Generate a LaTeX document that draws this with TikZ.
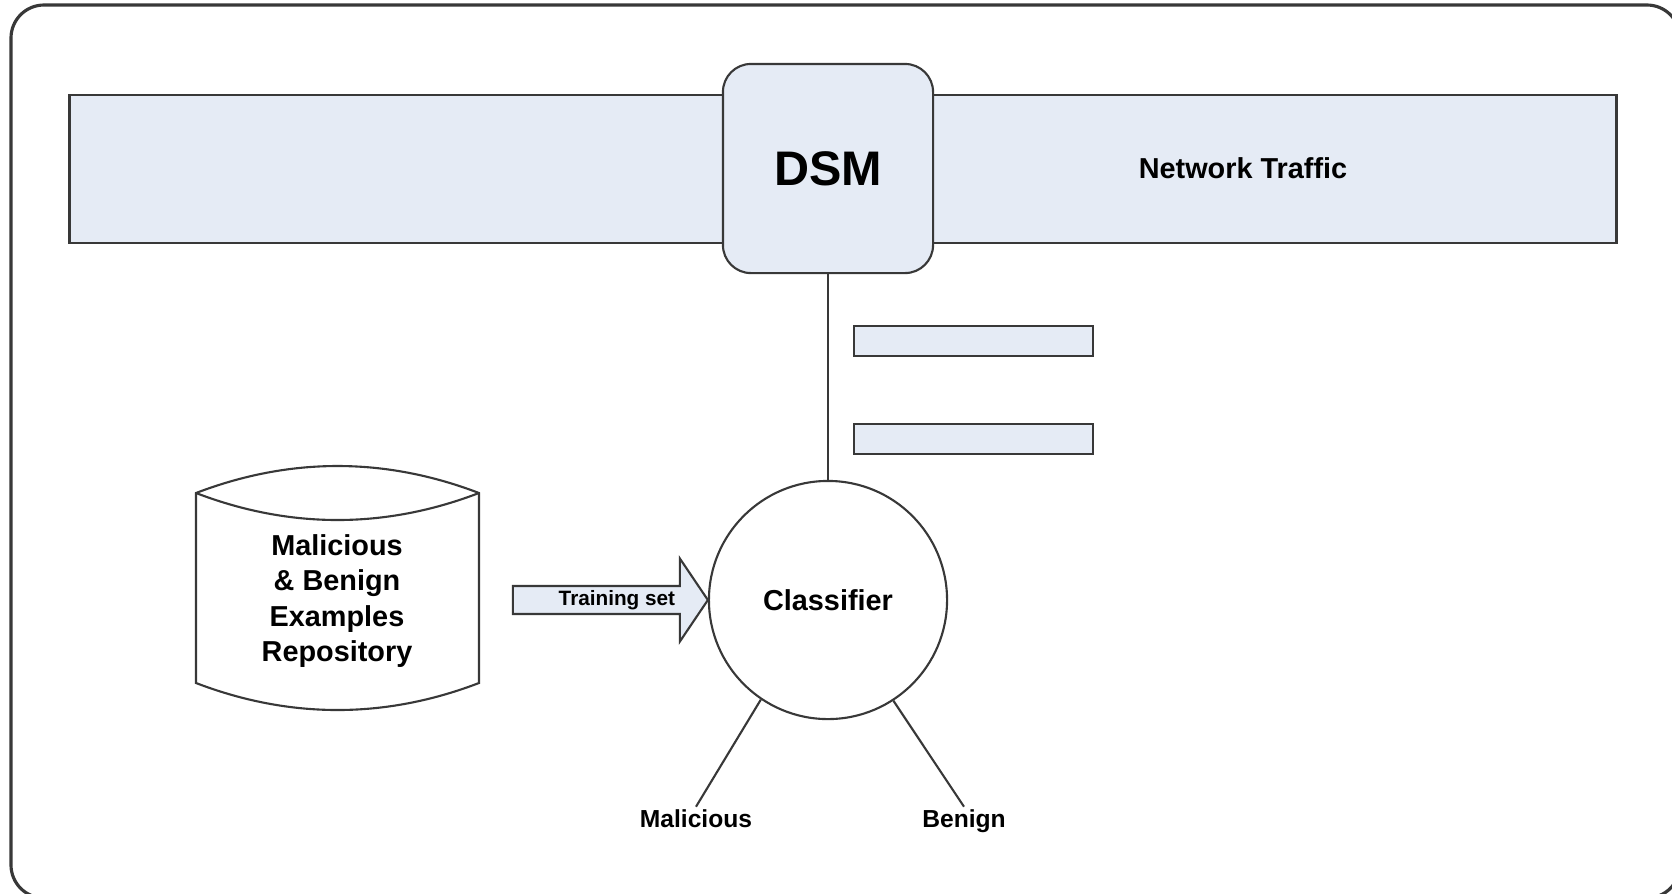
\documentclass[tikz,border=0pt]{standalone}
\usepackage{fontspec}
\setmainfont{Liberation Sans}
\usetikzlibrary{shapes,positioning}
\definecolor{paleBlue}{RGB}{229,235,245}
\colorlet{penColor}{black!78}
\tikzset{
  bandBox/.style={draw=penColor, fill=paleBlue, line width=0.6pt, inner sep=0pt},
  dsmBox/.style={bandBox, rounded corners=2.8mm, minimum width=2.10cm, minimum height=2.09cm,
    font=\fontsize{13.8}{16}\selectfont\bfseries},
  slotBox/.style={bandBox, minimum width=2.39cm, minimum height=0.30cm},
  classCircle/.style={circle, draw=penColor, line width=0.6pt, minimum size=2.38cm, inner sep=0pt,
    font=\fontsize{8.2}{10}\selectfont\bfseries},
  trainArrow/.style={draw=penColor, fill=paleBlue, line width=0.6pt, line join=miter},
  bigTxt/.style={font=\fontsize{8.2}{10}\selectfont\bfseries, inner sep=0pt},
  smallTxt/.style={font=\fontsize{7}{8.5}\selectfont\bfseries, inner sep=0.5pt},
  tinyTxt/.style={font=\fontsize{5.9}{7}\selectfont\bfseries, inner sep=0pt},
  wire/.style={draw=penColor, line width=0.6pt}
}
\begin{document}
\begin{tikzpicture}[x=0.01cm,y=-0.01cm]
\useasboundingbox (0,0) rectangle (1672,893);
\clip (0,0) rectangle (1672,893);
% outer frame, runs off at the right and bottom
\draw[penColor, line width=0.9pt, rounded corners=3.3mm] (11,5) rectangle (1680,898);

% network traffic band with the DSM on it
\node[bandBox, minimum width=15.46cm, minimum height=1.48cm] (band) at (843,169) {};
\node[bigTxt] (traffic) at (1243,168) {Network Traffic};
\node[dsmBox] (dsm) at (828,168.5) {DSM};

% the two slots
\node[slotBox] (slotA) at (973.5,341) {};
\node[slotBox, below=6.6mm of slotA] (slotB) {};

% classifier
\node[classCircle] (classifier) at (828,600) {Classifier};
\draw[wire] (dsm.south) -- (classifier.north);

% repository drum
\draw[penColor, line width=0.6pt, fill=white]
  (196,493) .. controls (290,457) and (385,457) .. (479,493)
  -- (479,683) .. controls (385,719) and (290,719) .. (196,683) -- cycle;
\draw[penColor, line width=0.6pt] (196,493) .. controls (290,529) and (385,529) .. (479,493);
\node[bigTxt, align=center] (repo) at (337,601)
  {Malicious\\\& Benign\\Examples\\Repository};

% training set into the classifier (block arrow, tip on the circle)
\draw[trainArrow] (classifier.west) -- ++(-28,-41.5) -- ++(0,27.5) -- ++(-167,0)
  -- ++(0,28) -- ++(167,0) -- ++(0,27.5) -- cycle;
\node[tinyTxt, left=3.2mm of classifier.west] (trainLbl) {Training set};

% outputs
\node[smallTxt, anchor=base] (mal) at (696,827) {Malicious};
\node[smallTxt, anchor=base] (ben) at (964,827) {Benign};
\draw[wire] (classifier.236) -- (mal.north);
\draw[wire] (classifier.303) -- (ben.north);
\end{tikzpicture}
\end{document}
